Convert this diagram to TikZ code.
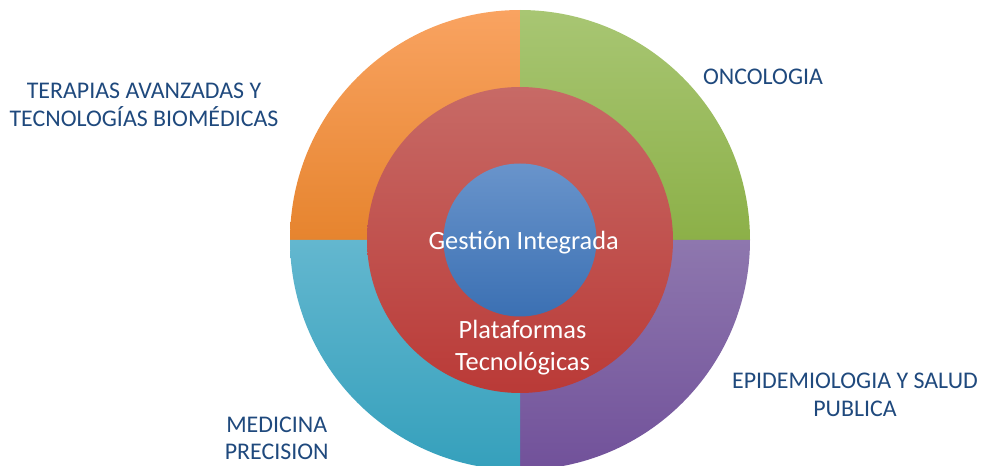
\documentclass[tikz,border=0pt]{standalone}
\usepackage{fontspec}
\setmainfont{Carlito}
\definecolor{labelblue}{HTML}{1F497D}
\definecolor{orangetop}{HTML}{F9A361}
\definecolor{orangebot}{HTML}{E6842E}
\definecolor{greentop}{HTML}{A8C673}
\definecolor{greenbot}{HTML}{8CB048}
\definecolor{purpletop}{HTML}{8E77AE}
\definecolor{purplebot}{HTML}{71519A}
\definecolor{aquatop}{HTML}{63B7CF}
\definecolor{aquabot}{HTML}{35A0BC}
\definecolor{redtop}{HTML}{C76A66}
\definecolor{redbot}{HTML}{BA3A37}
\definecolor{bluetop}{HTML}{6994CB}
\definecolor{bluebot}{HTML}{3B70B3}
\begin{document}
\begin{tikzpicture}[x=0.2mm, y=0.2mm,
    outlabel/.style={text=labelblue, align=center, inner sep=0pt, font=\fontsize{13.6}{15.6}\selectfont},
    inlabel/.style={text=white, align=center, inner sep=0pt, font=\fontsize{15}{18}\selectfont}]
    \useasboundingbox (0,0) rectangle (982,465);
    \coordinate (c) at (520,225);
    % outer ring, one quarter per area
    \foreach \a/\ctop/\cbot in {90/orangetop/orangebot, 0/greentop/greenbot, -90/purpletop/purplebot, 180/aquatop/aquabot}{
        \shade[top color=\ctop, bottom color=\cbot]
            (c) -- ++(\a:230) arc[start angle=\a, delta angle=90, radius=230] -- cycle;
    }
    \shade[top color=redtop, bottom color=redbot] (c) circle[radius=153];
    \shade[top color=bluetop, bottom color=bluebot] (c) circle[radius=76.5];
    \node[outlabel] (terapias) at (144,360.3) {TERAPIAS AVANZADAS Y\\TECNOLOGÍAS BIOMÉDICAS};
    \node[outlabel] (oncologia) at (763,388.5) {ONCOLOGIA};
    \node[outlabel] (epidemiologia) at (855,70.2) {EPIDEMIOLOGIA Y SALUD\\PUBLICA};
    \node[outlabel] (medicina) at (276.7,26.9) {MEDICINA\\PRECISION};
    \node[inlabel, anchor=base] (gestion) at (523.7,215) {Gestión Integrada};
    \node[inlabel] (plataformas) at (522.5,117.5) {Plataformas\\Tecnológicas};
\end{tikzpicture}
\end{document}
